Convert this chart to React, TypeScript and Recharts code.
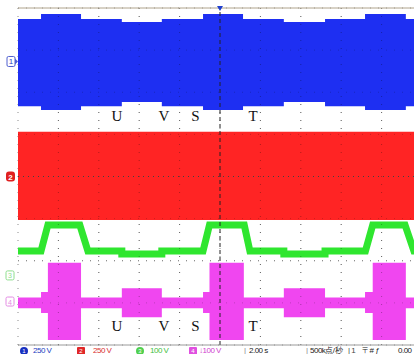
import React from "react";
import {
  Area,
  CartesianGrid,
  ComposedChart,
  Line,
  ReferenceDot,
  ReferenceLine,
  XAxis,
  YAxis,
} from "recharts";

// time in screen divisions (2.00 s/div), levels in divisions from screen centre
const ch1Time = [0, 0.57, 1.56, 2.57, 3.56, 4.58, 5.57, 6.58, 7.6, 8.59, 9.6, 10];
const ch1Top = [3.74, 3.86, 3.74, 3.67, 3.74, 3.86, 3.74, 3.67, 3.74, 3.86, 3.74, 3.74];
const ch1Bottom = [1.67, 1.58, 1.67, 1.77, 1.67, 1.58, 1.67, 1.77, 1.67, 1.58, 1.67, 1.67];

const ch2Time = [0, 10];
const ch2Top = [1.06, 1.06];
const ch2Bottom = [-1.03, -1.03];

const ch3Time = [0, 0.57, 0.74, 1.53, 1.73, 2.57, 2.57, 3.56, 3.56, 4.58, 4.74, 5.6, 5.74, 6.58, 6.58, 7.6, 7.6, 8.6, 8.78, 9.58, 9.8, 10];
const ch3Level = [-1.77, -1.77, -1.15, -1.15, -1.77, -1.77, -1.84, -1.84, -1.77, -1.77, -1.15, -1.15, -1.77, -1.77, -1.84, -1.84, -1.77, -1.77, -1.15, -1.15, -1.77, -1.77];

const ch4Time = [0, 0.57, 0.74, 1.56, 2.57, 3.56, 4.58, 4.74, 5.59, 6.58, 7.6, 8.59, 8.78, 9.6, 10];
const ch4Top = [-2.87, -2.74, -2.05, -2.87, -2.65, -2.87, -2.74, -2.05, -2.87, -2.65, -2.87, -2.74, -2.05, -2.87, -2.87];
const ch4Bottom = [-3.13, -3.24, -3.88, -3.13, -3.34, -3.13, -3.24, -3.88, -3.13, -3.34, -3.13, -3.24, -3.88, -3.13, -3.13];

const channelOffsets = [2.73, 0, -2.36, -2.98];

const phaseLabels = ["U", "V", "S", "T"];
const phaseTimes = [2.45, 3.61, 4.39, 5.82];
const phaseRows = [1.32, -3.67];

const xDivs = [1, 2, 3, 4, 6, 7, 8, 9];
const yDivs = [-3, -2, -1, 1, 2, 3];

const BLUE = "#1e2ff2";
const RED = "#ff2424";
const GREEN = "#2fe62f";
const PINK = "#f046f0";

const ch1Data = ch1Time.map((t, i) => ({ t, v: [ch1Bottom[i], ch1Top[i]] }));
const ch2Data = ch2Time.map((t, i) => ({ t, v: [ch2Bottom[i], ch2Top[i]] }));
const ch3Data = ch3Time.map((t, i) => ({ t, v: ch3Level[i] }));
const ch4Data = ch4Time.map((t, i) => ({ t, v: [ch4Bottom[i], ch4Top[i]] }));

function ChannelTag({ cx, cy, n }: { cx?: number; cy?: number; n: number }) {
  if (cx == null || cy == null) return null;
  const x = cx - 11;
  const y = cy - 5;
  if (n === 1) {
    return (
      <g>
        <rect x={x} y={y} width={8} height={10} rx={1.5} fill="#fff" stroke="#5060d0" strokeWidth={1} />
        <text x={x + 4} y={y + 8} fontSize={8} textAnchor="middle" fill="#3040c0" fontFamily="Liberation Sans">1</text>
        <path d={`M${x + 8} ${cy - 3} L${x + 11} ${cy} L${x + 8} ${cy + 3}`} fill="#5060d0" />
      </g>
    );
  }
  if (n === 2) {
    return (
      <g>
        <rect x={x - 1} y={y} width={9} height={10} rx={3} fill="#e02020" />
        <text x={x + 3.5} y={y + 8} fontSize={8} textAnchor="middle" fill="#fff" fontFamily="Liberation Sans" fontWeight="bold">2</text>
      </g>
    );
  }
  const c = n === 3 ? "#8ede8e" : "#e48ce4";
  return (
    <g>
      <rect x={x - 1} y={y} width={8} height={9} rx={1.5} fill="#fff" stroke={c} strokeWidth={1} />
      <text x={x + 3} y={y + 7.5} fontSize={7} textAnchor="middle" fill={c} fontFamily="Liberation Sans">{n}</text>
    </g>
  );
}

function Letter({ cx, cy, s }: { cx?: number; cy?: number; s: string }) {
  if (cx == null || cy == null) return null;
  return (
    <text x={cx} y={cy} fontSize={15} textAnchor="middle" fill="#111" fontFamily="Liberation Serif">
      {s}
    </text>
  );
}

function Trig({ cx, cy }: { cx?: number; cy?: number }) {
  if (cx == null || cy == null) return null;
  return <path d={`M${cx - 3} ${cy - 2} L${cx + 3} ${cy - 2} L${cx} ${cy + 3} Z`} fill="#2040d0" />;
}

const statusItems: Array<{ x: number; text: string; color: string; badge?: "circle" | "box"; bg?: string }> = [
  { x: 20, text: "1", color: "#fff", badge: "circle", bg: "#1830c0" },
  { x: 33, text: "250 V", color: "#2040c0" },
  { x: 77, text: "2", color: "#fff", badge: "box", bg: "#e02828" },
  { x: 93, text: "250 V", color: "#d83030" },
  { x: 136, text: "3", color: "#fff", badge: "circle", bg: "#50d050" },
  { x: 150, text: "100 V", color: "#40c040" },
  { x: 189, text: "4", color: "#fff", badge: "box", bg: "#e050e0" },
  { x: 199, text: "↓100 V", color: "#d040d0" },
  { x: 244, text: "|", color: "#888" },
  { x: 249, text: "2.00 s", color: "#222" },
  { x: 306, text: "|", color: "#888" },
  { x: 310, text: "500k点/秒", color: "#222" },
  { x: 348, text: "| 1", color: "#444" },
  { x: 362, text: "〒# ƒ", color: "#222" },
  { x: 398, text: "0.00", color: "#222" },
];

export default function App() {
  return (
    <div
      style={{
        position: "fixed",
        left: 0,
        top: 0,
        width: 414,
        height: 354,
        overflow: "hidden",
        background: "#fff",
      }}
    >
      <ComposedChart
        width={430}
        height={354}
        margin={{ top: 8, right: 8, bottom: 9, left: 18 }}
      >
        <XAxis
          type="number"
          dataKey="t"
          domain={[0, 10]}
          ticks={[0, 1, 2, 3, 4, 5, 6, 7, 8, 9, 10]}
          hide
          allowDataOverflow
        />
        <YAxis
          type="number"
          domain={[-4, 4]}
          ticks={[-4, -3, -2, -1, 0, 1, 2, 3, 4]}
          hide
          allowDataOverflow
        />
        <CartesianGrid stroke="#8a8a8a" strokeDasharray="1 7" />
        <Area data={ch1Data} dataKey="v" type="stepAfter" fill={BLUE} fillOpacity={1} stroke="none" isAnimationActive={false} />
        <Area data={ch2Data} dataKey="v" type="linear" fill={RED} fillOpacity={1} stroke="none" isAnimationActive={false} />
        <Area data={ch4Data} dataKey="v" type="stepAfter" fill={PINK} fillOpacity={1} stroke="none" isAnimationActive={false} />
        <Line data={ch3Data} dataKey="v" type="linear" stroke={GREEN} strokeWidth={7} dot={false} isAnimationActive={false} />
        {xDivs.map((d) => (
          <ReferenceLine key={`vx${d}`} x={d} stroke="#000" strokeOpacity={0.3} strokeDasharray="1 7" />
        ))}
        {yDivs.map((d) => (
          <ReferenceLine key={`hy${d}`} y={d} stroke="#000" strokeOpacity={0.2} strokeDasharray="1 7" />
        ))}
        <ReferenceLine y={0} stroke="#444" strokeDasharray="1 4" />
        <ReferenceLine x={5} stroke="#222" strokeDasharray="4 3" />
        <ReferenceLine y={4} stroke="#b0a48c" />
        <ReferenceLine y={-4} stroke="#9a9a9a" />
        <ReferenceDot x={5} y={4} r={0} shape={(p: any) => <Trig cx={p.cx} cy={p.cy} />} />
        {channelOffsets.map((off, i) => (
          <ReferenceDot
            key={`ch${i}`}
            x={0}
            y={off}
            r={0}
            ifOverflow="visible"
            shape={(p: any) => <ChannelTag cx={p.cx} cy={p.cy} n={i + 1} />}
          />
        ))}
        {phaseRows.map((row) =>
          phaseLabels.map((s, i) => (
            <ReferenceDot
              key={`${row}-${s}`}
              x={phaseTimes[i]}
              y={row}
              r={0}
              shape={(p: any) => <Letter cx={p.cx} cy={p.cy} s={s} />}
            />
          ))
        )}
      </ComposedChart>
      <div style={{ position: "absolute", left: 0, top: 346, width: 414, height: 10 }}>
        {statusItems.map((it, i) =>
          it.badge ? (
            <div
              key={i}
              style={{
                position: "absolute",
                left: it.x,
                top: 1,
                width: 8,
                height: 8,
                borderRadius: it.badge === "circle" ? 4 : 1,
                background: it.bg,
                color: it.color,
                fontSize: 6,
                lineHeight: "8px",
                textAlign: "center",
                fontFamily: "Liberation Sans",
              }}
            >
              {it.text}
            </div>
          ) : (
            <div
              key={i}
              style={{
                position: "absolute",
                left: it.x,
                top: 0,
                fontSize: 8,
                lineHeight: "10px",
                letterSpacing: -0.5,
                whiteSpace: "nowrap",
                color: it.color,
                fontFamily: "Liberation Sans",
              }}
            >
              {it.text}
            </div>
          )
        )}
      </div>
    </div>
  );
}
